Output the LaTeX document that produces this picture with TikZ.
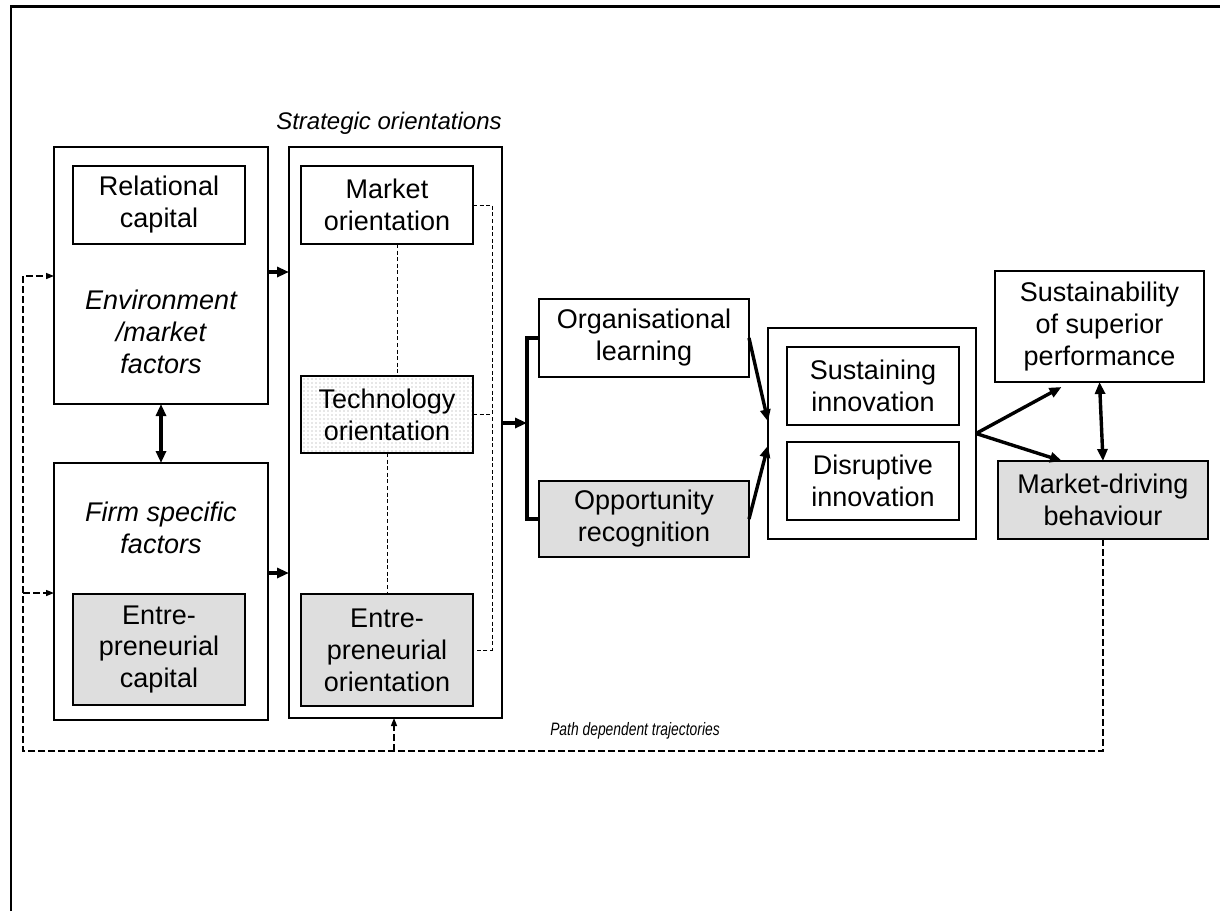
\documentclass[tikz,border=0pt]{standalone}
\usepackage{fontspec}
\setmainfont{Liberation Sans}
\usetikzlibrary{arrows.meta,patterns,calc}

% fine, light dot screen for the technology box
\pgfdeclarepatternformonly{finedots}{\pgfqpoint{-0.5pt}{-0.5pt}}{\pgfqpoint{0.5pt}{0.5pt}}{\pgfqpoint{2pt}{2pt}}{%
  \pgfpathcircle{\pgfqpoint{0pt}{0pt}}{0.3pt}\pgfusepath{fill}}

\begin{document}
\begin{tikzpicture}[x=0.5pt,y=-0.5pt,
  txt/.style={font=\fontsize{13.5}{16}\selectfont, align=center, inner sep=0pt},
  box/.style={draw, line width=0.6pt, inner sep=0pt, outer sep=0pt, txt},
  greybox/.style={box, fill=black!13},
  dotbox/.style={box, pattern=finedots, pattern color=black!40},
  bigarrow/.style={line width=1.7pt, -{Triangle[length=6pt,width=5pt]}},
  bothways/.style={line width=1.7pt, {Triangle[length=6pt,width=5pt]}-{Triangle[length=6pt,width=5pt]}},
  bracketline/.style={line width=1.7pt},
  feedback/.style={line width=0.7pt, dash pattern=on 3.3pt off 1.7pt},
  feedarrow/.style={feedback, -{Triangle[length=4pt,width=3pt]}},
  link/.style={line width=0.5pt, dash pattern=on 2pt off 1.3pt},
]
\useasboundingbox (0,0) rectangle (1220,911);

% frame
\draw[line width=1.1pt] (11,911) -- (11,6.5) -- (1220,6.5);

% antecedents
\node[box, minimum width=107pt, minimum height=128.5pt] (env) at (161,275.5) {};
\node[box, minimum width=86pt, minimum height=39pt] (rc) at (159,205) {Relational\\capital};
\node[txt, font=\fontsize{13.5}{16}\selectfont\itshape] (envtxt) at (161,332) {Environment\\/market\\factors};

\node[box, minimum width=107pt, minimum height=128.5pt] (firm) at (161,591.5) {};
\node[txt, font=\fontsize{13.5}{16}\selectfont\itshape] (firmtxt) at (161,528) {Firm specific\\factors};
\node[greybox, minimum width=86pt, minimum height=55.5pt] (ec) at (159,649.5) {Entre-\\preneurial\\capital};

% strategic orientations
\node[font=\fontsize{12}{14}\selectfont\itshape, inner sep=0pt] (sotitle) at (389,123) {Strategic orientations};
\node[box, minimum width=106.5pt, minimum height=285.5pt] (so) at (395.5,432.5) {};
\node[box, minimum width=86pt, minimum height=39pt] (mo) at (387,205) {Market\\orientation};
\node[dotbox, minimum width=86pt, minimum height=38.5pt] (to) at (387,414.5) {Technology\\orientation};
\node[greybox, minimum width=86pt, minimum height=56pt] (eo) at (387,650) {Entre-\\preneurial\\orientation};

% capabilities
\node[box, minimum width=105pt, minimum height=39pt] (ol) at (644,338) {Organisational\\learning};
\node[greybox, minimum width=105pt, minimum height=38pt] (or) at (644,519) {Opportunity\\recognition};

% innovation
\node[box, minimum width=104pt, minimum height=105.5pt] (inn) at (872,433.5) {};
\node[box, minimum width=86pt, minimum height=39pt] (si) at (873,386) {Sustaining\\innovation};
\node[box, minimum width=86pt, minimum height=39pt] (di) at (873,481) {Disruptive\\innovation};

% outcomes
\node[box, minimum width=104.5pt, minimum height=55.5pt] (sp) at (1099.5,326.5) {Sustainability\\of superior\\performance};
\node[greybox, minimum width=105pt, minimum height=39pt] (md) at (1103,500) {Market-driving\\behaviour};

% dashed links between orientations
\draw[link] ($(mo.south)+(10,0)$) -- ($(to.north)+(10,0)$);
\draw[link] (to.south) -- (eo.north);
\coordinate (sx) at (492,0);
\draw[link] (mo.east) -| (sx |- eo.east) -- (eo.east);
\draw[link] (to.east) -- (to.east -| sx);

% solid flows
\coordinate (ya) at (0,272);
\coordinate (yb) at (0,573);
\coordinate (yc) at (0,423);
\draw[bigarrow] (env.east |- ya) -- (so.west |- ya);
\draw[bigarrow] (firm.east |- yb) -- (so.west |- yb);
\draw[bothways] (env.south) -- (firm.north);

\coordinate (bt) at (527,338);
\coordinate (bb) at (527,519);
\draw[bigarrow] (so.east |- yc) -- (bt |- yc);
\draw[bracketline] (bt -| ol.west) -- (bt) -- (bb) -- (bb -| or.west);

\draw[bigarrow] (ol.east) -- ($(inn.west)+(0,-12)$);
\draw[bigarrow] (or.east) -- ($(inn.west)+(0,12)$);

\draw[bigarrow] (inn.east) -- ($(sp.south)+(-38,5)$);
\draw[bigarrow] (inn.east) -- ($(md.north)+(-41,0)$);
\draw[bothways] (sp.south) -- (md.north);

% feedback: path dependent trajectories
\coordinate (fbl) at (23,751);
\coordinate (fbin) at (23,276);
\coordinate (fbfirm) at (23,593);
\coordinate (fbso) at (394,751);
\draw[feedarrow] (md.south) |- (fbl) -- (fbin) -- (fbin -| env.west);
\draw[feedarrow] (fbfirm) -- (fbfirm -| firm.west);
\draw[feedarrow] (fbso) -- (fbso |- so.south);
\node[font=\fontsize{9}{10}\selectfont\itshape, inner sep=0pt] (pdt) at (635,731) {\scalebox{0.77}[1]{Path dependent trajectories}};

\end{tikzpicture}
\end{document}
